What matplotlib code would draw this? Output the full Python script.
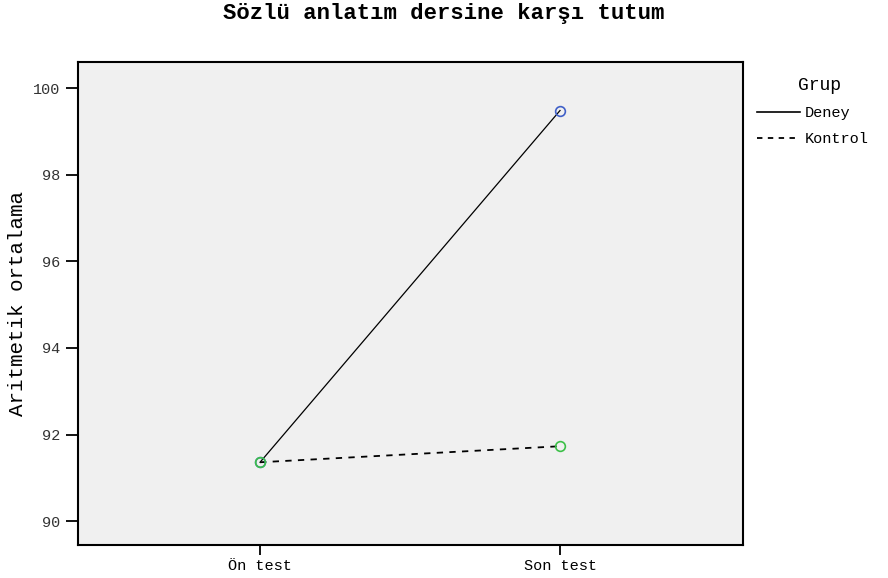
import matplotlib.pyplot as plt
from matplotlib.lines import Line2D

# data
kategoriler = ['Ön test', 'Son test']
deney = [91.36, 99.48]
kontrol = [91.36, 91.73]
y_ticks = [90, 92, 94, 96, 98, 100]

plt.rcParams['font.family'] = ['Liberation Mono', 'DejaVu Sans Mono']

fig = plt.figure(figsize=(8.88, 5.78), dpi=100)
ax = fig.add_axes([0.0878, 0.0571, 0.7489, 0.8356])
ax.set_facecolor('#f0f0f0')

x = list(range(len(kategoriler)))
ax.plot(x, deney, color='black', lw=0.9, ls='-')
ax.plot(x, kontrol, color='black', lw=1.3, ls=(0, (3.5, 3.5)))
ax.plot(x, deney, ls='none', marker='o', ms=7, mfc='none', mec='#4060c8', mew=1.2)
ax.plot(x, kontrol, ls='none', marker='o', ms=7, mfc='none', mec='#3cc048', mew=1.2)

ax.set_xlim(-0.607, 1.61)
ax.set_ylim(89.45, 100.6)
ax.set_xticks(x)
ax.set_xticklabels(kategoriler, fontsize=11)
ax.set_yticks(y_ticks)
ax.set_yticklabels([str(v) for v in y_ticks], fontsize=11, color='#333333')
ax.tick_params(axis='y', direction='out', length=9, width=1.3, pad=4)
ax.tick_params(axis='x', direction='out', length=7, width=1.3, pad=3)
for s in ax.spines.values():
    s.set_linewidth(1.5)

ax.set_ylabel('Aritmetik ortalama', fontsize=15, labelpad=4)
fig.suptitle('Sözlü anlatım dersine karşı tutum', fontsize=16, fontweight='bold', y=0.995)

# legend title placed separately, entries below
fig.text(819 / 888, 1 - 85 / 578, 'Grup', fontsize=13, ha='center', va='center')
handles = [Line2D([], [], color='black', lw=1.2, ls='-'),
           Line2D([], [], color='black', lw=1.3, ls=(0, (3, 3)))]
leg = fig.legend(handles, ['Deney', 'Kontrol'], loc='upper left',
                 bbox_to_anchor=(757 / 888, 1 - 106 / 578), frameon=False, fontsize=11,
                 handlelength=2.8, handletextpad=0.35, labelspacing=0.8,
                 borderpad=0, borderaxespad=0)

fig.savefig('out.png', dpi=100)
